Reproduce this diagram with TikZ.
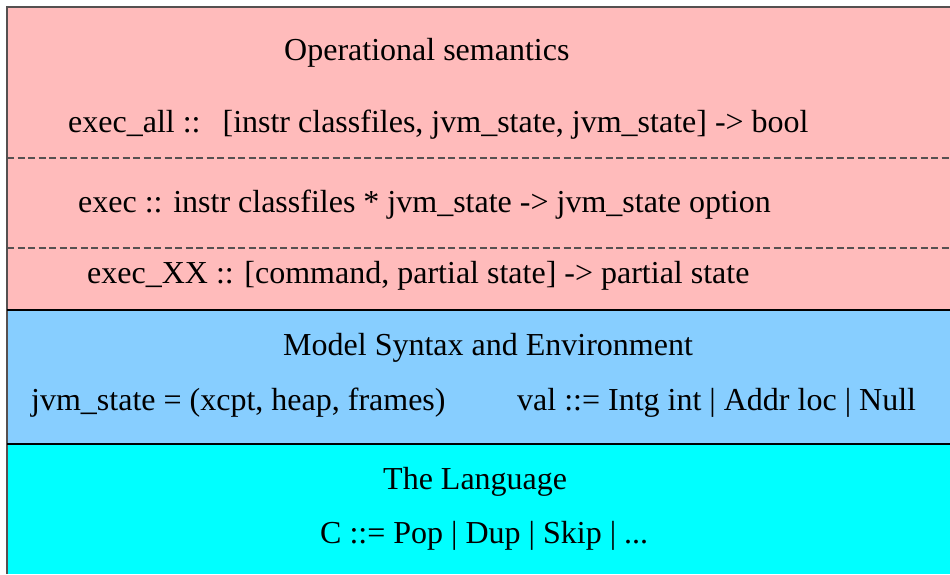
\documentclass[tikz,border=0pt]{standalone}
\usepackage{fontspec}
\setmainfont{Liberation Serif}
\definecolor{pinkbg}{RGB}{255,187,187}
\definecolor{bluebg}{RGB}{135,206,255}
\definecolor{cyanbg}{RGB}{0,255,255}
\definecolor{edge}{RGB}{85,80,80}
\begin{document}
\begin{tikzpicture}[x=1pt,y=-1pt,
  txt/.style={anchor=base west,inner sep=0pt,font=\fontsize{32}{36}\selectfont},
  sep/.style={draw=black,line width=1.2pt},
  dsep/.style={draw=edge,line width=1.1pt,dash pattern=on 7pt off 3.5pt}]
\useasboundingbox (0,0) rectangle (950,574);
\fill[pinkbg] (7,7) rectangle (950,310);
\fill[bluebg] (7,310) rectangle (950,444);
\fill[cyanbg] (7,444) rectangle (950,574);
\draw[edge,line width=1.5pt] (7,574) -- (7,7) -- (950,7);
\draw[sep] (7,310) -- (950,310);
\draw[sep] (7,444) -- (950,444);
\draw[dsep] (7,158) -- (950,158);
\draw[dsep] (7,248) -- (950,248);
\node[txt] (t1) at (284,60) {Operational semantics};
\node[txt] (t2) at (68,132) {exec\_all ::\hspace{22pt}[instr classfiles, jvm\_state, jvm\_state] -> bool};
\node[txt] (t3) at (78,212) {exec :: instr classfiles * jvm\_state -> jvm\_state option};
\node[txt] (t4) at (87,283) {exec\_XX :: [command, partial state] -> partial state};
\node[txt] (t5) at (283,355) {Model Syntax and Environment};
\node[txt] (t6) at (31,410) {jvm\_state = (xcpt, heap, frames)};
\node[txt] (t7) at (517,410) {val ::= Intg int | Addr loc | Null};
\node[txt] (t8) at (383,489) {The Language};
\node[txt] (t9) at (320,543) {C ::= Pop | Dup | Skip | ...};
\end{tikzpicture}
\end{document}
